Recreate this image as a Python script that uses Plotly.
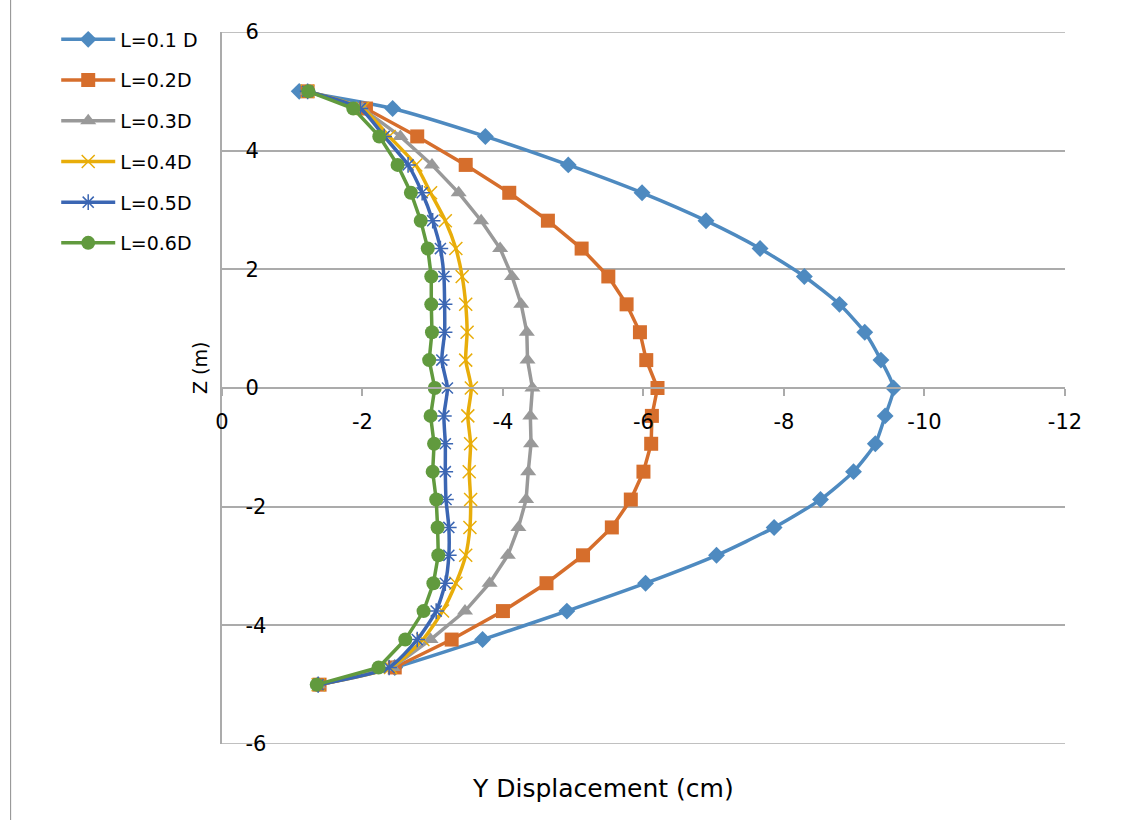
import plotly.graph_objects as go

# Depth along the pile (m)
z = [5, 4.71, 4.24, 3.76, 3.29, 2.82, 2.35, 1.88, 1.41, 0.94, 0.47, 0,
     -0.47, -0.94, -1.41, -1.88, -2.35, -2.82, -3.29, -3.76, -4.24, -4.71, -5]

# Lateral (Y) displacement in cm for each spacing L
L01 = [-1.10, -2.43, -3.75, -4.93, -5.98, -6.89, -7.66, -8.29, -8.79, -9.15, -9.38, -9.56,
       -9.44, -9.30, -8.99, -8.52, -7.86, -7.04, -6.03, -4.91, -3.71, -2.46, -1.37]
L02 = [-1.22, -2.05, -2.78, -3.47, -4.09, -4.64, -5.12, -5.50, -5.76, -5.95, -6.04, -6.20,
       -6.12, -6.11, -6.00, -5.82, -5.55, -5.14, -4.62, -4.00, -3.27, -2.46, -1.39]
L03 = [-1.22, -2.00, -2.54, -2.99, -3.37, -3.69, -3.96, -4.13, -4.26, -4.34, -4.35, -4.42,
       -4.39, -4.40, -4.36, -4.33, -4.22, -4.07, -3.81, -3.46, -2.97, -2.43, -1.37]
L04 = [-1.22, -2.00, -2.38, -2.76, -2.97, -3.18, -3.33, -3.42, -3.47, -3.49, -3.47, -3.55,
       -3.50, -3.54, -3.52, -3.54, -3.53, -3.47, -3.33, -3.14, -2.86, -2.40, -1.37]
L05 = [-1.22, -1.97, -2.31, -2.65, -2.85, -3.00, -3.11, -3.16, -3.17, -3.17, -3.13, -3.21,
       -3.16, -3.18, -3.18, -3.19, -3.23, -3.23, -3.18, -3.05, -2.78, -2.38, -1.37]
L06 = [-1.23, -1.87, -2.24, -2.50, -2.69, -2.83, -2.93, -2.98, -2.98, -2.99, -2.95, -3.03,
       -2.97, -3.02, -3.00, -3.05, -3.07, -3.08, -3.01, -2.87, -2.61, -2.23, -1.35]

series_names = ["L=0.1 D", "L=0.2D", "L=0.3D", "L=0.4D", "L=0.5D", "L=0.6D"]
series_values = [L01, L02, L03, L04, L05, L06]

x_ticks = [0, -2, -4, -6, -8, -10, -12]
y_ticks = [-6, -4, -2, 0, 2, 4, 6]
y_min, y_max = -6, 6

styles = [
    dict(color="#4E8AC0", symbol="diamond", size=13, shape="spline"),
    dict(color="#D66E2C", symbol="square", size=14, shape="linear"),
    dict(color="#999999", symbol="triangle-up", size=14, shape="linear"),
    dict(color="#E8AD0A", symbol="x-thin-open", size=13, shape="spline"),
    dict(color="#3B66B3", symbol="asterisk-open", size=13, shape="spline"),
    dict(color="#619A3E", symbol="circle", size=14, shape="linear"),
]

FONT = "DejaVu Sans"
GRID = "#ababab"

fig = go.Figure()
for name, vals, st in zip(series_names, series_values, styles):
    open_marker = st["symbol"].endswith("open")
    fig.add_trace(go.Scatter(
        x=vals, y=z, name=name, mode="lines+markers",
        legendgroup=name,
        line=dict(color=st["color"], width=3.5, shape=st["shape"], smoothing=0.6),
        marker=dict(symbol=st["symbol"], size=st["size"], color=st["color"],
                    line=dict(color=st["color"], width=1.5 if open_marker else 0)),
    ))

# horizontal grid lines at the top and bottom of the value range
edge_grid = [
    dict(type="line", xref="paper", yref="y", x0=0, x1=1, y0=v, y1=v,
         line=dict(color=GRID, width=1.5), layer="below")
    for v in (y_min, y_max)
]

fig.update_layout(
    width=1138, height=820,
    margin=dict(l=219, r=73, t=32, b=76),
    paper_bgcolor="white", plot_bgcolor="white",
    font=dict(family=FONT, size=21, color="black"),
    showlegend=True,
    legend=dict(
        xref="container", yref="container",
        x=0.0494, y=0.975, xanchor="left", yanchor="top",
        font=dict(family=FONT, size=19, color="black"),
        itemwidth=54, tracegroupgap=13,
        bgcolor="rgba(0,0,0,0)",
    ),
    xaxis=dict(
        range=[0, -12], tickvals=x_ticks, ticktext=[str(v) for v in x_ticks],
        showgrid=False, zeroline=False,
        showline=True, linecolor=GRID, linewidth=1.5,
        ticks="outside", ticklen=7, tickcolor=GRID, tickwidth=1.5,
        anchor="free", position=0.5,
        ticklabelstandoff=8, ticklabeloverflow="allow",
        tickfont=dict(family=FONT, size=21, color="black"),
    ),
    yaxis=dict(
        range=[y_min, y_max], tickvals=y_ticks, ticktext=[str(v) for v in y_ticks],
        showgrid=True, gridcolor=GRID, gridwidth=1.5,
        zeroline=False,
        showline=True, linecolor=GRID, linewidth=1.5,
        ticks="", ticklabelposition="inside", ticklabelstandoff=25,
        ticklabeloverflow="allow",
        tickfont=dict(family=FONT, size=21, color="black"),
    ),
    annotations=[
        dict(text="Y Displacement (cm)", xref="paper", yref="paper",
             x=0.452, y=-0.0618, xanchor="center", yanchor="middle",
             showarrow=False, font=dict(family=FONT, size=25)),
        dict(text="Z (m)", xref="paper", yref="paper",
             x=-0.026, y=0.528, xanchor="center", yanchor="middle",
             textangle=-90, showarrow=False, font=dict(family=FONT, size=19)),
    ],
    shapes=edge_grid + [
        dict(type="line", xref="paper", yref="paper",
             x0=-0.2506, x1=-0.2506, y0=-0.11, y1=1.05,
             line=dict(color="#8c8c8c", width=1)),
    ],
)

fig.write_html("out.html")
